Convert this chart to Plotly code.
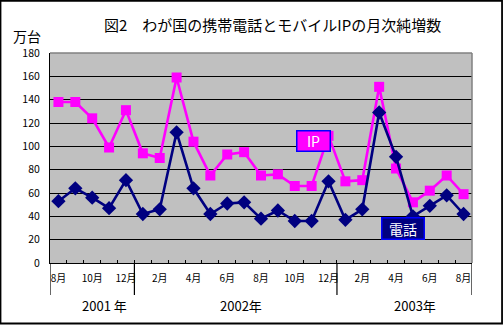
import plotly.graph_objects as go

# Monthly net additions (10,000 units), Aug 2001 – Aug 2003
month_labels = ["8月", "9月", "10月", "11月", "12月",
                "1月", "2月", "3月", "4月", "5月", "6月", "7月", "8月", "9月", "10月", "11月", "12月",
                "1月", "2月", "3月", "4月", "5月", "6月", "7月", "8月"]
ip_values = [138, 138, 124, 99, 131, 94, 90, 159, 104, 75, 93, 95, 75,
             76, 66, 66, 109, 70, 71, 151, 81, 52, 62, 75, 59]
phone_values = [53, 64, 56, 47, 71, 42, 46, 112, 64, 42, 51, 52, 38,
                45, 36, 36, 70, 37, 46, 129, 91, 40, 49, 58, 42]
year_labels = ["2001 年", "2002年", "2003年"]
year_label_pos = [2.75, 10.8, 21.1]
year_breaks = [-0.5, 4.5, 16.5, 24.5]
y_ticks = list(range(0, 181, 20))

FONT = "Noto Sans CJK JP, Noto Sans, sans-serif"
x = list(range(len(month_labels)))

fig = go.Figure()
fig.add_trace(go.Scatter(
    x=x, y=ip_values, mode="lines+markers", name="IP",
    line=dict(color="#FF00FF", width=2.6),
    marker=dict(symbol="square", size=10, color="#FF00FF"),
))
fig.add_trace(go.Scatter(
    x=x, y=phone_values, mode="lines+markers", name="電話",
    line=dict(color="#000080", width=2.6),
    marker=dict(symbol="diamond", size=11, color="#000080"),
))

shapes = []
# year separators below the category axis
for b in year_breaks:
    shapes.append(dict(type="line", xref="x", yref="paper", x0=b, x1=b,
                       y0=0, y1=-0.152, line=dict(color="black", width=1.2)))
# plot-area border on top and right
shapes.append(dict(type="line", xref="paper", yref="paper", x0=0, x1=1, y0=1, y1=1,
                   line=dict(color="#808080", width=1.5), layer="above"))
shapes.append(dict(type="line", xref="paper", yref="paper", x0=1, x1=1, y0=0, y1=1,
                   line=dict(color="#808080", width=1.5), layer="above"))
# outer chart frame
shapes.append(dict(type="rect", xref="paper", yref="paper",
                   x0=-0.1173, x1=1.0712, y0=-0.2881, y1=1.2486,
                   line=dict(color="black", width=1.8)))

centered = dict(showarrow=False, xanchor="center", yanchor="middle")
annotations = [
    dict(text="図2　わが国の携帯電話とモバイルIPの月次純増数", xref="paper", yref="paper",
         x=(272 - 50) / 422, y=(263 - 24) / 210,
         font=dict(family=FONT, size=15, color="black"), **centered),
    dict(text="万台", xref="paper", yref="paper",
         x=(27 - 50) / 422, y=(263 - 36) / 210,
         font=dict(family=FONT, size=14, color="black"), **centered),
    dict(text="IP", x=15.13, y=104.5,
         bgcolor="#FF00FF", bordercolor="#0000FF", borderwidth=1.5, borderpad=0,
         width=32, height=19, font=dict(family=FONT, size=14, color="white"), **centered),
    dict(text="電話", x=20.44, y=29.3,
         bgcolor="#000080", bordercolor="#0000FF", borderwidth=1.5, borderpad=0,
         width=41, height=20, font=dict(family=FONT, size=14, color="white"), **centered),
]
for lbl, pos in zip(year_labels, year_label_pos):
    annotations.append(dict(text=lbl, x=pos, xref="x", yref="paper",
                            y=(263 - 305) / 210,
                            font=dict(family=FONT, size=13, color="black"), **centered))

fig.update_layout(
    width=504, height=326,
    margin=dict(l=50, r=32, t=53, b=63),
    paper_bgcolor="white", plot_bgcolor="#C0C0C0",
    showlegend=False,
    shapes=shapes, annotations=annotations,
    font=dict(family=FONT, size=10, color="black"),
)
fig.update_xaxes(
    range=[-0.5, 24.5], tickmode="array",
    tickvals=x[::2], ticktext=month_labels[::2],
    ticks="", ticklabelstandoff=6,
    minor=dict(tickvals=[i + 0.5 for i in x[:-1]], ticks="inside", ticklen=3,
               tickcolor="black", showgrid=False),
    showgrid=False, zeroline=False,
    showline=True, linecolor="black", linewidth=1.2,
    tickfont=dict(family=FONT, size=10),
)
fig.update_yaxes(
    range=[0, 180], tickmode="array", tickvals=y_ticks,
    ticks="", ticklabelstandoff=7,
    showgrid=True, gridcolor="black", gridwidth=1,
    zeroline=False, showline=True, linecolor="black", linewidth=1.2,
    tickfont=dict(family=FONT, size=10.5),
)

fig.write_html("out.html")
